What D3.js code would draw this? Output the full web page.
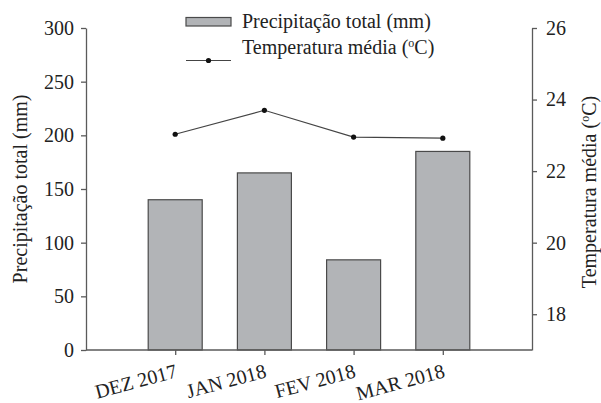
<!DOCTYPE html>
<html>
<head>
<meta charset="utf-8">
<script src="https://cdn.jsdelivr.net/npm/d3@7"></script>
<style>
  html, body { margin: 0; padding: 0; background: #fff; }
  svg { display: block; }
  text { font-family: "Liberation Serif", "Times New Roman", serif; fill: #222; }
</style>
</head>
<body>
<svg id="chart" width="601" height="403"></svg>
<script>
// Monthly rainfall and mean temperature
const months = ["DEZ 2017", "JAN 2018", "FEV 2018", "MAR 2018"];
const precipitation = [140, 165, 84, 185];
const temperature = [23.03, 23.7, 22.95, 22.92];
const precipTicks = [0, 50, 100, 150, 200, 250, 300];
const tempTicks = [18, 20, 22, 24, 26];

const svg = d3.select("#chart");
const plotLeft = 86, plotRight = 532, plotTop = 28, plotBottom = 350;
const fontSize = 20;
const fontFamily = "Liberation Serif, Times New Roman, serif";

const x = d3.scalePoint().domain(months).range([plotLeft, plotRight]).padding(1);
const yP = d3.scaleLinear().domain([0, 300]).range([plotBottom, plotTop]);
const yT = d3.scaleLinear().domain([17, 26]).range([plotBottom, plotTop]);
const barWidth = 54;

// bars
svg.append("g").selectAll("rect")
  .data(months)
  .join("rect")
  .attr("x", d => x(d) - barWidth / 2)
  .attr("y", (d, i) => yP(precipitation[i]))
  .attr("width", barWidth)
  .attr("height", (d, i) => yP(0) - yP(precipitation[i]))
  .attr("fill", "#b2b4b7")
  .attr("stroke", "#4a4a4a")
  .attr("stroke-width", 1.2);

// temperature line
const line = d3.line().x((d, i) => x(months[i])).y(d => yT(d));
svg.append("path")
  .datum(temperature)
  .attr("d", line)
  .attr("fill", "none")
  .attr("stroke", "#444")
  .attr("stroke-width", 1.2);
svg.append("g").selectAll("circle")
  .data(temperature)
  .join("circle")
  .attr("cx", (d, i) => x(months[i]))
  .attr("cy", d => yT(d))
  .attr("r", 2.6)
  .attr("fill", "#111");

function styleAxis(g) {
  g.selectAll("path, line").attr("stroke", "#5a5a5a").attr("stroke-width", 1.3);
  g.selectAll("text").attr("font-size", fontSize).attr("font-family", fontFamily).attr("fill", "#222");
}

// left axis
svg.append("g")
  .attr("transform", `translate(${plotLeft},0)`)
  .call(d3.axisLeft(yP).tickValues(precipTicks).tickSize(5).tickSizeOuter(0).tickPadding(7))
  .call(styleAxis);

// right axis
svg.append("g")
  .attr("transform", `translate(${plotRight},0)`)
  .call(d3.axisRight(yT).tickValues(tempTicks).tickSize(5).tickSizeOuter(0).tickPadding(9))
  .call(styleAxis);

// bottom axis
const xAxis = svg.append("g")
  .attr("transform", `translate(0,${plotBottom})`)
  .call(d3.axisBottom(x).tickSize(5).tickSizeOuter(0).tickFormat(""));
xAxis.select(".domain").attr("d", `M${plotLeft},0H${plotRight}`);
xAxis.call(styleAxis);

svg.append("g").selectAll("text")
  .data(months)
  .join("text")
  .attr("transform", d => `translate(${x(d) + 3},${plotBottom + 27}) rotate(-15)`)
  .attr("text-anchor", "end")
  .attr("font-size", fontSize)
  .attr("font-family", fontFamily)
  .text(d => d);

// axis titles
svg.append("text")
  .attr("transform", `translate(27,189) rotate(-90)`)
  .attr("text-anchor", "middle")
  .attr("font-size", fontSize)
  .attr("font-family", fontFamily)
  .text("Precipitação total (mm)");

const rt = svg.append("text")
  .attr("transform", `translate(596,192) rotate(-90)`)
  .attr("text-anchor", "middle")
  .attr("font-size", fontSize)
  .attr("font-family", fontFamily);
rt.append("tspan").text("Temperatura média (");
rt.append("tspan").attr("font-size", 12).attr("dy", -7).text("o");
rt.append("tspan").attr("dy", 7).text("C)");

// legend
const lg = svg.append("g").attr("font-family", fontFamily);
lg.append("rect")
  .attr("x", 186).attr("y", 17.5).attr("width", 45).attr("height", 8.5)
  .attr("fill", "#b2b4b7").attr("stroke", "#4a4a4a").attr("stroke-width", 1.2);
lg.append("text").attr("x", 242).attr("y", 28).attr("font-size", fontSize)
  .text("Precipitação total (mm)");
lg.append("line")
  .attr("x1", 186).attr("x2", 231).attr("y1", 60.5).attr("y2", 60.5)
  .attr("stroke", "#444").attr("stroke-width", 1.2);
lg.append("circle").attr("cx", 208.5).attr("cy", 60.5).attr("r", 2.6).attr("fill", "#111");
const lt = lg.append("text").attr("x", 242).attr("y", 54).attr("font-size", fontSize);
lt.append("tspan").text("Temperatura média (");
lt.append("tspan").attr("font-size", 12).attr("dy", -7).text("o");
lt.append("tspan").attr("dy", 7).text("C)");
</script>
</body>
</html>
